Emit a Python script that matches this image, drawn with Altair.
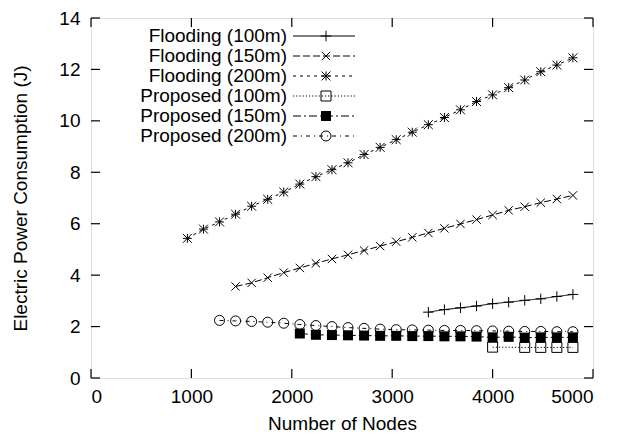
import altair as alt
import pandas as pd

# ---------------- data ----------------
x_flood_100 = [3360, 3520, 3680, 3840, 4000, 4160, 4320, 4480, 4640, 4800]
y_flood_100 = [2.56, 2.66, 2.73, 2.80, 2.89, 2.95, 3.02, 3.08, 3.17, 3.25]

x_flood_150 = [1440, 1600, 1760, 1920, 2080, 2240, 2400, 2560, 2720, 2880, 3040,
               3200, 3360, 3520, 3680, 3840, 4000, 4160, 4320, 4480, 4640, 4800]
y_flood_150 = [3.56, 3.70, 3.90, 4.10, 4.28, 4.46, 4.63, 4.79, 4.96, 5.13, 5.30,
               5.47, 5.64, 5.82, 5.99, 6.16, 6.34, 6.52, 6.66, 6.82, 6.96, 7.10]

x_flood_200 = [960, 1120, 1280, 1440, 1600, 1760, 1920, 2080, 2240, 2400, 2560, 2720,
               2880, 3040, 3200, 3360, 3520, 3680, 3840, 4000, 4160, 4320, 4480, 4640, 4800]
y_flood_200 = [5.43, 5.79, 6.07, 6.37, 6.68, 6.95, 7.23, 7.54, 7.83, 8.10, 8.37, 8.69,
               8.97, 9.27, 9.56, 9.85, 10.13, 10.43, 10.75, 11.01, 11.29, 11.59, 11.91, 12.17, 12.45]

x_prop_100 = [4000, 4320, 4480, 4640, 4800]
y_prop_100 = [1.20, 1.19, 1.19, 1.19, 1.19]

x_prop_150 = [2080, 2240, 2400, 2560, 2720, 2880, 3040, 3200, 3360, 3520, 3680,
              3840, 4000, 4160, 4320, 4480, 4640, 4800]
y_prop_150 = [1.73, 1.68, 1.67, 1.66, 1.65, 1.64, 1.64, 1.63, 1.63, 1.62, 1.62,
              1.61, 1.58, 1.60, 1.57, 1.58, 1.58, 1.58]

x_prop_200 = [1280, 1440, 1600, 1760, 1920, 2080, 2240, 2400, 2560, 2720, 2880, 3040,
              3200, 3360, 3520, 3680, 3840, 4000, 4160, 4320, 4480, 4640, 4800]
y_prop_200 = [2.24, 2.22, 2.20, 2.17, 2.13, 2.08, 2.04, 2.00, 1.96, 1.93, 1.90, 1.88,
              1.87, 1.86, 1.85, 1.85, 1.84, 1.83, 1.82, 1.81, 1.81, 1.80, 1.80]

series_names = ["Flooding (100m)", "Flooding (150m)", "Flooding (200m)",
                "Proposed (100m)", "Proposed (150m)", "Proposed (200m)"]
x_ticks = [0, 1000, 2000, 3000, 4000, 5000]
y_ticks = [0, 2, 4, 6, 8, 10, 12, 14]

# ---------------- styling ----------------
W, H = 502, 360
FONT = "Liberation Sans"
FS = 19

PLUS = "M-1,0H1M0,-1V1"
CROSS = "M-1,-1L1,1M-1,1L1,-1"
STAR = "M-1,0H1M0,-1V1M-1,-1L1,1M-1,1L1,-1"

styles = [
    dict(dash=[1, 0], shape=PLUS, filled=False, size=110),
    dict(dash=[7, 3], shape=CROSS, filled=False, size=70),
    dict(dash=[3, 4], shape=STAR, filled=False, size=80),
    dict(dash=[1.2, 2], shape="square", filled=False, size=100),
    dict(dash=[8, 3, 2, 3], shape="square", filled=True, size=100),
    dict(dash=[4, 4, 1, 4], shape="circle", filled=False, size=100),
]

data_xy = [(x_flood_100, y_flood_100), (x_flood_150, y_flood_150), (x_flood_200, y_flood_200),
           (x_prop_100, y_prop_100), (x_prop_150, y_prop_150), (x_prop_200, y_prop_200)]

xscale = alt.Scale(domain=[0, 5000], nice=False, zero=False)
yscale = alt.Scale(domain=[0, 14], nice=False, zero=False)

x_enc = alt.X("x:Q", scale=xscale,
              axis=alt.Axis(values=x_ticks, format="d", title="Number of Nodes", grid=False,
                            ticks=False, domain=False, labelPadding=9, titlePadding=8,
                            labelFont=FONT, titleFont=FONT, labelFontSize=FS, titleFontSize=FS,
                            titleFontWeight="normal", labelColor="black", titleColor="black"))
y_enc = alt.Y("y:Q", scale=yscale,
              axis=alt.Axis(values=y_ticks, title="Electric Power Consumption (J)", grid=False,
                            ticks=False, domain=False, labelPadding=11, titlePadding=28,
                            labelFont=FONT, titleFont=FONT, labelFontSize=FS, titleFontSize=FS,
                            titleFontWeight="normal", labelColor="black", titleColor="black"))

layers = []
for i, (name, (xs, ys), st) in enumerate(zip(series_names, data_xy, styles)):
    df = pd.DataFrame({"x": xs, "y": ys, "series": name})
    base = alt.Chart(df)
    layers.append(base.mark_line(color="black", strokeWidth=1, strokeDash=st["dash"]).encode(
        x=x_enc, y=y_enc))
    pt = dict(shape=st["shape"], filled=st["filled"], size=st["size"], color="black",
              strokeWidth=1, opacity=1)
    layers.append(base.mark_point(**pt).encode(x="x:Q", y="y:Q"))
    # legend entry (gnuplot style: right-aligned label, sample line with marker)
    ly = 18 + 20 * i
    leg = alt.Chart(pd.DataFrame({"series": [name]}))
    layers.append(leg.mark_text(align="right", baseline="middle", font=FONT, fontSize=FS,
                                color="black").encode(
        text="series:N", x=alt.value(196), y=alt.value(ly)))
    layers.append(leg.mark_rule(color="black", strokeWidth=1, strokeDash=st["dash"]).encode(
        x=alt.value(202), x2=alt.value(264), y=alt.value(ly)))
    layers.append(leg.mark_point(**pt).encode(x=alt.value(235), y=alt.value(ly)))

# inside ticks on all four sides
TK = 9
xt = alt.Chart(pd.DataFrame({"x": x_ticks}))
yt = alt.Chart(pd.DataFrame({"y": y_ticks}))
layers += [
    xt.mark_rule(color="black", strokeWidth=1.2).encode(x="x:Q", y=alt.value(H), y2=alt.value(H - TK)),
    xt.mark_rule(color="black", strokeWidth=1.2).encode(x="x:Q", y=alt.value(0), y2=alt.value(TK)),
    yt.mark_rule(color="black", strokeWidth=1.2).encode(y="y:Q", x=alt.value(0), x2=alt.value(TK)),
    yt.mark_rule(color="black", strokeWidth=1.2).encode(y="y:Q", x=alt.value(W), x2=alt.value(W - TK)),
]

chart = alt.layer(*layers).properties(
    width=W, height=H,
    autosize=alt.AutoSizeParams(type="none"),
    padding={"left": 83, "top": 10, "right": 12, "bottom": 62},
).configure_view(stroke="black", strokeWidth=1.6).configure(background="white")

chart.save("out.html", embed_options={"renderer": "svg", "actions": False})
